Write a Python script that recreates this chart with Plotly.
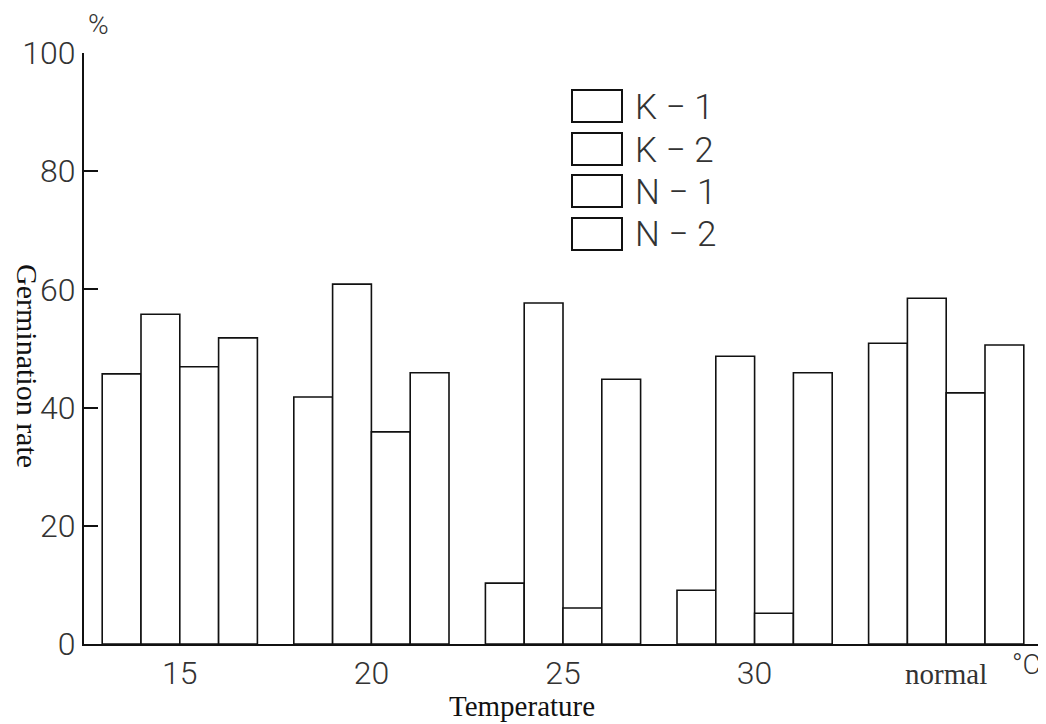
import plotly.graph_objects as go

# ---- data ----
categories = ["15", "20", "25", "30", "normal"]
k1 = [45.7, 41.8, 10.3, 9.1, 50.9]
k2 = [55.8, 60.9, 57.7, 48.7, 58.5]
n1 = [46.9, 35.9, 6.1, 5.2, 42.5]
n2 = [51.8, 45.9, 44.8, 45.9, 50.6]
series_names = ["K − 1", "K − 2", "N − 1", "N − 2"]
y_ticks = [0, 20, 40, 60, 80, 100]

# page body has an 8px margin: figure origin sits at (8, 8) of the window
OFF = 8
W, H = 1046 - OFF, 724 - OFF
ML, MT = 84 - OFF, 53 - OFF
MB = H - (644 - OFF)
MR = W - (1042 - OFF)
PW, PH = W - ML - MR, H - MT - MB

def px(x):
    return (x - OFF - ML) / PW

def py(y):
    return (H - MB - (y - OFF)) / PH

NUM_FONT = "Roboto, Liberation Sans, sans-serif"
SERIF = "Liberation Serif, DejaVu Serif, serif"

fig = go.Figure()
for name, vals in zip(series_names, [k1, k2, n1, n2]):
    fig.add_trace(go.Bar(
        x=categories, y=vals, name=name,
        marker=dict(color="white", line=dict(color="#111", width=1.6)),
        showlegend=False,
    ))

ticktext = [c if c != "normal" else
            "<span style='font-family:Liberation Serif, serif;font-size:29px;font-weight:400'>normal</span>"
            for c in categories]

fig.update_layout(
    width=W, height=H,
    margin=dict(l=ML, r=MR, t=MT, b=MB, autoexpand=False),
    paper_bgcolor="white", plot_bgcolor="white",
    barmode="group", bargap=0.19, bargroupgap=0.0,
    xaxis=dict(
        type="category", range=[-0.5, 4.5], automargin=False,
        tickvals=categories, ticktext=ticktext,
        showline=True, linecolor="#111", linewidth=2,
        ticks="", showgrid=False, zeroline=False, ticklabelstandoff=0,
        tickfont=dict(family=NUM_FONT, size=32, color="#333", weight=300),
    ),
    yaxis=dict(
        range=[0, 100], automargin=False,
        tickvals=y_ticks, ticktext=[str(v) for v in y_ticks],
        showline=True, linecolor="#111", linewidth=2,
        ticks="inside", ticklen=14, tickwidth=1.6, tickcolor="#111",
        showgrid=False, zeroline=False,
        tickfont=dict(family=NUM_FONT, size=32, color="#333", weight=300),
    ),
)

# legend drawn as large boxes with labels
box_tops = [90, 133, 175, 218]
for name, top in zip(series_names, box_tops):
    fig.add_shape(type="rect", xref="paper", yref="paper",
                  x0=px(572), x1=px(622), y0=py(top + 32), y1=py(top),
                  line=dict(color="#111", width=2), fillcolor="white")
    fig.add_annotation(xref="paper", yref="paper", x=px(633), y=py(top + 17),
                       text=name, showarrow=False, xanchor="left", yanchor="middle",
                       font=dict(family="Roboto, Liberation Sans, sans-serif",
                                 size=35, color="#333", weight=300))

# axis titles and unit labels
fig.add_annotation(xref="paper", yref="paper", x=px(28), y=py(366),
                   text="Germination rate", textangle=90, showarrow=False,
                   xanchor="center", yanchor="middle",
                   font=dict(family=SERIF, size=30, color="#111"))
fig.add_annotation(xref="paper", yref="paper", x=px(522), y=py(706),
                   text="Temperature", showarrow=False,
                   xanchor="center", yanchor="middle",
                   font=dict(family=SERIF, size=29, color="#111"))
fig.add_annotation(xref="paper", yref="paper", x=px(1026), y=py(664),
                   text="°C", showarrow=False, xanchor="center", yanchor="middle",
                   font=dict(family=NUM_FONT, size=28, color="#333", weight=300))
fig.add_annotation(xref="paper", yref="paper", x=px(98), y=py(24),
                   text="%", showarrow=False, xanchor="center", yanchor="middle",
                   font=dict(family=NUM_FONT, size=28, color="#333", weight=300))

fig.write_html("out.html")
